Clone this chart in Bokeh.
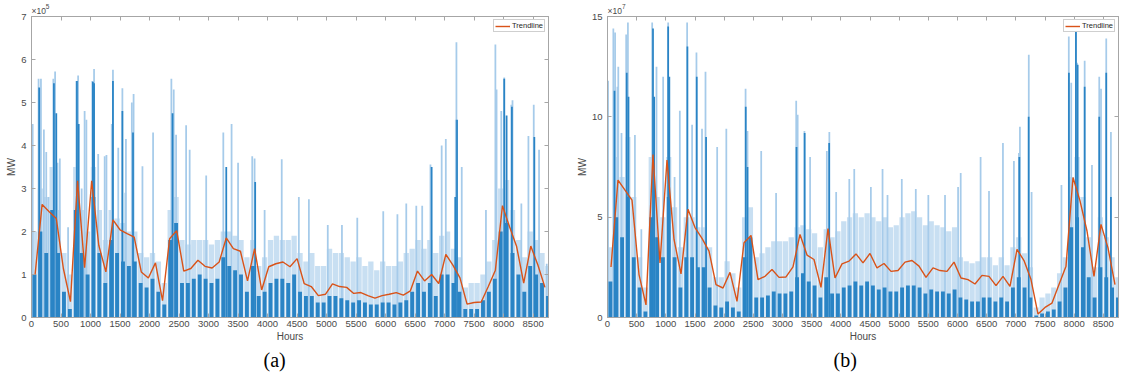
from bokeh.plotting import figure
from bokeh.layouts import row
from bokeh.models import Range1d, LinearAxis, FixedTicker, Title
from bokeh.embed import file_html
from bokeh.resources import INLINE

# ---------------- data ----------------
bin_start = list(range(0, 8760, 100))          # 100-hour bins
trend_hours = list(range(60, 8760, 120))       # trendline sample hours
x_ticks = list(range(0, 8760, 500))

# Panel (a): MW x 1e5
core_a = [1.0,2.0,1.5,2.5,1.5,0.6,0.2,2.5,1.5,1.0,
          2.8,1.5,0.8,1.8,1.5,1.3,1.2,1.3,0.8,0.7,
          0.9,0.6,0.3,1.8,2.2,0.8,0.8,0.9,1.0,0.9,
          0.8,0.9,1.4,1.2,1.1,1.0,0.6,1.2,0.5,0.6,
          0.8,0.9,0.9,0.8,1.0,0.6,0.5,0.5,0.35,0.35,
          0.5,0.5,0.45,0.4,0.35,0.4,0.35,0.3,0.3,0.35,
          0.35,0.3,0.35,0.4,0.6,0.8,0.6,0.8,0.5,1.0,
          1.0,0.8,0.6,0.2,0.2,0.2,0.4,0.6,0.9,2.0,
          2.2,1.5,1.0,0.6,1.2,1.0,0.8,0.5]
haze_a = [2.0,3.0,2.8,3.5,2.5,1.5,1.0,3.5,2.5,2.0,
          3.5,2.5,1.8,2.5,2.3,2.2,2.0,2.0,1.5,1.4,
          1.5,1.3,0.8,2.5,2.8,1.8,1.7,1.8,1.8,1.8,
          1.7,1.8,2.0,2.0,1.9,1.8,1.4,1.8,1.2,1.4,
          1.8,1.9,1.8,1.8,1.9,1.5,1.3,1.5,1.2,1.2,
          1.6,1.5,1.5,1.4,1.3,1.4,1.2,1.3,1.1,1.3,
          1.2,1.2,1.3,1.5,1.6,1.8,1.6,1.8,1.5,1.9,
          2.0,1.6,1.4,0.7,0.8,0.8,1.0,1.3,1.8,3.0,
          3.2,2.5,1.8,1.4,2.0,1.8,1.5,1.2]
spike_a_hours = [20,120,160,210,250,290,370,400,440,480,620,760,790,850,900,930,1030,1060,
                 1130,1240,1270,1360,1380,1470,1540,1590,1600,1700,1730,1880,2060,2370,2410,
                 2450,2620,2680,2960,3250,3390,3500,3740,3780,3950,4240,4530,4700,5020,5260,
                 5520,5960,6200,6350,6520,6620,6760,6950,7020,7190,7200,7290,7700,7860,7880,
                 7960,8010,8130,8150,8300,8420,8510,8600,8730]
spike_a_vals = [4.5,5.55,5.55,4.37,3.85,2.8,5.55,5.72,3.6,3.7,2.1,5.5,5.63,3.0,4.8,4.6,5.5,5.78,
                3.8,3.75,3.78,4.5,5.76,3.95,5.33,2.9,4.15,5.0,5.2,3.52,4.3,5.55,5.3,
                4.25,4.47,3.9,3.3,4.3,4.5,3.6,3.75,3.7,2.5,3.68,2.8,2.75,2.15,2.15,
                2.32,2.47,2.4,2.65,2.6,2.6,3.56,4.0,4.15,4.6,6.4,3.5,2.5,6.35,5.3,
                4.8,5.58,4.95,5.05,2.65,4.22,4.95,3.9,1.25]
dark_a_hours = [130,380,420,770,800,1040,1060,1380,1540,1720,2390,3300,3790,6780,7180,7210,
                8010,8050,8140,8520]
dark_a_vals = [5.35,5.45,4.75,5.5,4.5,5.48,5.45,5.5,4.8,4.3,4.75,3.5,3.15,3.5,2.8,4.6,
               5.55,4.7,4.9,4.2]
trend_a = [0.99,2.63,2.46,2.30,1.14,0.37,3.18,1.16,3.18,1.68,
           1.06,2.27,2.04,1.95,1.87,1.06,0.92,1.27,0.39,1.83,
           2.02,1.08,1.14,1.33,1.19,1.15,1.29,1.85,1.60,1.54,
           0.85,1.60,0.64,1.18,1.25,1.29,1.18,1.37,0.79,0.72,
           0.51,0.54,0.78,0.72,0.70,0.56,0.58,0.51,0.45,0.51,
           0.54,0.58,0.52,0.62,1.08,0.85,1.00,0.79,1.47,1.22,
           0.92,0.31,0.35,0.36,0.72,1.10,2.60,2.11,1.65,0.80,
           1.66,1.22,0.70]

# Panel (b): MW x 1e7
core_b = [1.8,5.0,4.0,6.0,3.0,1.5,0.3,5.0,4.0,3.0,
          6.0,3.0,1.5,3.0,3.0,2.5,2.5,1.5,0.6,0.5,
          0.8,0.5,0.3,3.0,4.0,1.0,1.0,1.1,1.3,1.2,
          1.2,1.3,2.0,2.2,1.8,1.6,1.0,2.0,1.2,1.2,
          1.5,1.6,1.8,1.6,1.8,1.6,1.4,1.5,1.3,1.3,
          1.5,1.6,1.6,1.5,1.2,1.4,1.3,1.3,1.2,1.4,
          1.0,0.9,0.8,0.8,1.0,1.0,0.8,1.0,0.8,1.5,
          2.0,1.5,1.0,0.1,0.2,0.3,0.4,0.8,1.5,4.5,
          5.0,3.5,2.0,1.0,2.5,2.0,1.5,1.0]
haze_b = [3.5,8.0,7.0,9.0,6.0,3.0,1.5,8.0,6.0,5.0,
          8.0,5.5,3.5,5.0,5.0,4.5,4.5,3.5,2.0,2.0,
          2.8,2.2,1.5,5.0,5.5,3.0,3.2,3.5,3.8,3.8,
          3.8,4.0,4.5,4.6,4.4,4.2,3.5,4.4,4.0,4.3,
          4.8,5.0,5.2,5.0,5.2,5.0,4.8,5.0,4.5,4.6,
          5.0,5.2,5.3,5.0,4.6,4.8,4.6,4.5,4.3,4.5,
          3.0,2.8,2.7,2.8,3.0,3.0,2.6,3.0,2.6,3.5,
          4.0,3.2,2.5,0.5,1.0,1.2,1.5,2.2,3.0,7.0,
          8.0,6.0,4.0,2.5,5.0,4.0,3.0,2.0]
spike_b_hours = [10,100,130,170,185,240,320,350,470,580,766,840,954,1040,1150,1240,1365,1450,
                 1525,1620,1680,1880,2037,2367,2400,2635,2890,3235,3260,3376,3473,3760,3803,
                 3920,4145,4230,4515,4715,4800,5045,5285,5500,5786,6010,6055,6396,6540,6779,
                 6967,7053,7070,7222,7270,7782,7908,7950,8033,8050,8180,8305,8430,8460,8550,8630]
spike_b_vals = [11.8,14.4,14.2,11.5,12.5,9.2,14.1,14.7,9.1,4.4,14.7,12.5,12.0,14.7,7.0,10.3,14.7,9.6,
                13.2,9.4,12.25,8.5,9.4,11.4,9.3,8.3,6.2,10.8,10.1,9.3,8.0,8.3,9.25,
                6.25,6.9,7.4,6.5,7.4,6.1,6.9,6.4,6.1,6.1,6.5,7.2,8.0,6.3,8.7,
                7.8,8.2,9.5,13.1,6.25,6.6,14.0,11.7,14.5,12.7,12.8,7.6,12.0,11.4,13.9,9.25]
dark_b_hours = [120,330,360,780,800,1040,1060,1370,1530,1690,2370,2400,3240,3380,3800,7060,
                7220,7910,8030,8060,8180,8430,8550,8630]
dark_b_vals = [11.3,12.2,11.0,14.4,11.0,14.5,12.0,13.5,12.0,9.0,10.5,7.5,8.5,9.2,8.7,8.0,
               10.0,12.2,14.5,12.6,11.5,10.0,12.2,6.0]
trend_b = [2.52,6.85,6.35,5.85,2.14,0.63,8.12,2.72,7.85,3.89,
           2.17,5.39,4.48,3.94,3.31,1.64,1.47,2.25,0.80,3.72,
           4.09,1.89,2.05,2.39,2.00,2.02,2.52,4.14,3.11,2.89,
           1.50,4.43,1.97,2.67,2.81,3.17,2.72,3.19,2.47,2.69,
           2.30,2.34,2.76,2.84,2.56,2.00,2.47,2.34,2.30,2.76,
           1.97,1.89,1.67,2.10,2.05,1.59,2.05,1.55,3.39,2.84,
           1.89,0.17,0.50,0.72,1.64,2.56,6.98,5.81,4.31,2.05,
           4.64,3.47,1.64]

# ---------------- styling ----------------
DARK = "#2a84c5"
LIGHT = "#a6cbea"
HAZE = "#c8dff2"
TREND = "#D95319"
AXIS = "#a6a6a6"
TXT = "#4a4a4a"
FONT = "Liberation Sans"


def style_axis(ax, labels=True):
    ax.axis_line_color = AXIS
    ax.major_tick_line_color = AXIS
    ax.major_tick_in = 4
    ax.major_tick_out = 0
    ax.minor_tick_line_color = None
    ax.major_label_text_font = FONT
    ax.major_label_text_color = TXT
    ax.axis_label_text_font = FONT
    ax.axis_label_text_color = TXT
    ax.axis_label_text_font_style = "normal"
    ax.axis_label_text_font_size = "10px"
    if labels:
        ax.major_label_text_font_size = "9.5px"
    else:
        # mirrored (box) axis: ticks only, labels not painted
        ax.major_label_text_font_size = "1px"
        ax.major_label_text_color = None
        ax.major_label_standoff = 0


def text_axis(pos, text, size, standoff):
    """A bare top axis used only to place one piece of text (axis exponent)."""
    ax = LinearAxis(ticker=FixedTicker(ticks=[pos]), major_label_overrides={pos: text})
    ax.axis_line_color = None
    ax.major_tick_line_color = None
    ax.minor_tick_line_color = None
    ax.major_tick_in = 0
    ax.major_tick_out = 0
    ax.major_label_text_font = FONT
    ax.major_label_text_font_size = size
    ax.major_label_text_color = TXT
    ax.major_label_standoff = standoff
    return ax


def panel(core, haze, sh, sv, dh, dv, trend, ymax, yticks, expo, exp_pos, caption,
          width, bl, br, cap_off):
    p = figure(width=width, height=376, output_backend="svg", toolbar_location=None,
               x_range=Range1d(0, 8760), y_range=Range1d(0, ymax),
               min_border_left=bl, min_border_right=br, min_border_top=16,
               min_border_bottom=59)
    p.grid.visible = False
    p.outline_line_color = AXIS
    p.background_fill_color = "white"

    centers = [s + 50 for s in bin_start]
    p.vbar(x=centers, width=90, top=haze, bottom=0, fill_color=HAZE, line_color=None)
    p.vbar(x=sh, width=30, top=sv, bottom=0, fill_color=LIGHT, line_color=None)
    p.vbar(x=centers, width=66, top=core, bottom=0, fill_color=DARK, line_color=None)
    p.vbar(x=dh, width=30, top=dv, bottom=0, fill_color=DARK, line_color=None)
    p.line(trend_hours, trend, line_color=TREND, line_width=1.4, legend_label="Trendline")

    xa = p.xaxis[0]
    ya = p.yaxis[0]
    style_axis(xa)
    style_axis(ya)
    xa.ticker = FixedTicker(ticks=x_ticks)
    ya.ticker = FixedTicker(ticks=yticks)
    xa.axis_label = "Hours"
    ya.axis_label = "MW"
    xa.major_label_standoff = 3
    xa.axis_label_standoff = 1
    ya.major_label_standoff = 5
    ya.axis_label_standoff = 1

    top = LinearAxis(ticker=FixedTicker(ticks=x_ticks))
    style_axis(top, labels=False)
    p.add_layout(top, "above")
    right = LinearAxis(ticker=FixedTicker(ticks=yticks))
    style_axis(right, labels=False)
    p.add_layout(right, "right")

    # axis exponent "×10" with a raised power digit, above the top-left corner
    p.add_layout(text_axis(exp_pos[0], "×10", "8.5px", 1), "above")
    p.add_layout(text_axis(exp_pos[1], expo, "6.5px", -6), "above")

    lg = p.legend[0]
    lg.location = "top_right"
    lg.margin = 3
    lg.padding = 1
    lg.spacing = 0
    lg.glyph_width = 15
    lg.glyph_height = 8
    lg.label_height = 8
    lg.label_standoff = 2
    lg.label_text_font = FONT
    lg.label_text_font_size = "7.5px"
    lg.label_text_color = "#262626"
    lg.border_line_color = "#a0a0a0"
    lg.border_line_width = 1
    lg.background_fill_alpha = 1

    # panel caption
    p.add_layout(Title(text=caption, align="left", offset=cap_off, standoff=4,
                       text_font="Liberation Serif", text_font_size="20px",
                       text_font_style="normal", text_color="#000000"), "below")
    return p


pa = panel(core_a, haze_a, spike_a_hours, spike_a_vals, dark_a_hours, dark_a_vals, trend_a,
           7, [0, 1, 2, 3, 4, 5, 6, 7], "5", (124, 274), "(a)", 573, 31, 25, 232)
pb = panel(core_b, haze_b, spike_b_hours, spike_b_vals, dark_b_hours, dark_b_vals, trend_b,
           15, [0, 5, 10, 15], "7", (123, 281), "(b)", 553, 34, 8, 226)

layout = row(pa, pb)
open("out.html", "w").write(file_html(layout, INLINE))
